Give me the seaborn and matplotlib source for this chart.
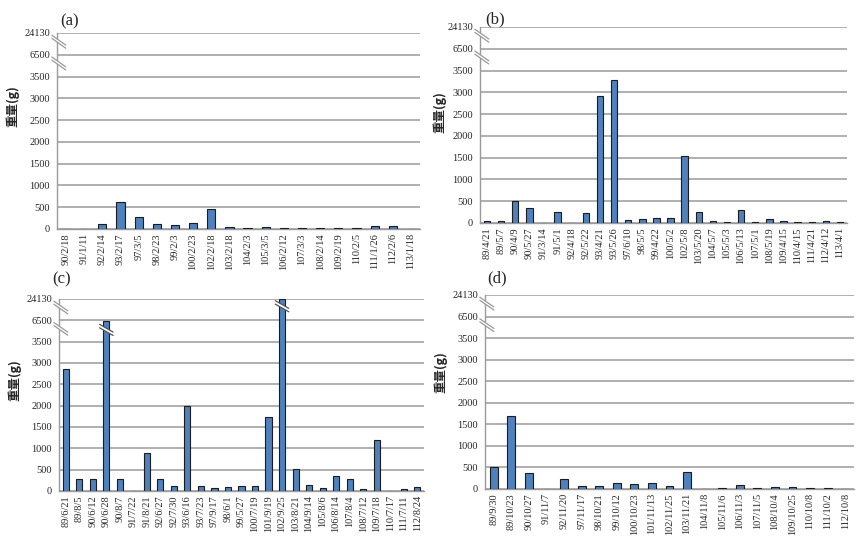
"""Four panels of bar charts with a broken weight axis."""

import matplotlib.pyplot as plt
import numpy as np
import pandas as pd
import seaborn as sns
from matplotlib.patches import Polygon
from matplotlib.transforms import blended_transform_factory

DATES_A = ["90/2/18", "91/1/11", "92/2/14", "93/2/17", "97/3/5", "98/2/23", "99/2/3", "100/2/23",
           "102/2/18", "103/2/18", "104/2/3", "105/3/5", "106/2/12", "107/3/3", "108/2/14",
           "109/2/19", "110/2/5", "111/1/26", "112/2/6", "113/1/18"]
WEIGHT_A = [0, 0, 120, 610, 265, 120, 100, 140, 460, 50, 20, 50, 20, 20, 20, 15, 15, 60, 75, 0]

DATES_B = ["89/4/21", "89/5/7", "90/4/9", "90/5/27", "91/3/14", "91/5/1", "92/4/18", "92/5/22",
           "93/4/21", "93/5/26", "97/6/10", "98/5/5", "99/4/22", "100/5/2", "102/5/8", "103/5/20",
           "104/5/7", "105/5/3", "106/5/13", "107/5/1", "108/5/19", "109/4/15", "110/4/15",
           "111/4/21", "112/4/12", "113/4/1"]
WEIGHT_B = [40, 40, 495, 350, 0, 250, 0, 225, 2920, 3290, 80, 100, 125, 125, 1540, 255,
            40, 15, 300, 15, 85, 45, 25, 15, 40, 15]

DATES_C = ["89/6/21", "89/8/5", "90/6/12", "90/6/28", "90/8/7", "91/7/22", "91/8/21", "92/6/27",
           "92/7/30", "93/6/16", "93/7/23", "97/9/17", "98/6/1", "99/5/27", "100/7/19", "101/9/19",
           "102/9/25", "103/8/21", "104/9/14", "105/8/6", "106/8/14", "107/8/4", "108/7/12",
           "109/7/18", "110/7/17", "111/7/11", "112/8/24"]
WEIGHT_C = [2850, 290, 290, 6450, 290, 0, 890, 290, 120, 2000, 120, 75, 90, 120, 120, 1730,
            24130, 525, 150, 65, 360, 290, 50, 1200, 10, 50, 105]

DATES_D = ["89/9/30", "89/10/23", "90/10/27", "91/11/7", "92/11/20", "97/11/17", "98/10/21",
           "99/10/12", "100/10/23", "101/11/13", "102/11/25", "103/11/21", "104/11/8", "105/11/6",
           "106/11/3", "107/11/5", "108/10/4", "109/10/25", "110/10/8", "111/10/2", "112/10/8"]
WEIGHT_D = [500, 1690, 370, 0, 240, 60, 60, 140, 125, 140, 60, 385, 10, 20, 85, 25, 45, 40,
            20, 20, 10]

Y_TICKS = [0, 500, 1000, 1500, 2000, 2500, 3000, 3500, 6500, 24130]
SCALE_VALUES = [0, 3500, 6500, 24130]
SCALE_STEPS = [0, 7, 8, 9]

BAR_COLOR = "#4F81BD"
GRID_COLOR = "#a9a9a9"
AXIS_COLOR = "#9a9a9a"


def forward(values):
    values = np.asarray(values, dtype=float)
    inside = np.interp(values, SCALE_VALUES, SCALE_STEPS)
    return np.where(values < 0, values / 500, np.where(values > 24130, 9 + (values - 24130) / 17630, inside))


def inverse(steps):
    steps = np.asarray(steps, dtype=float)
    inside = np.interp(steps, SCALE_STEPS, SCALE_VALUES)
    return np.where(steps < 0, steps * 500, np.where(steps > 9, 24130 + (steps - 9) * 17630, inside))


def draw_break(ax, transform, x0, x1, y_center, drop, gap, line_color):
    upper = [(x0, y_center + drop / 2 + gap / 2), (x1, y_center - drop / 2 + gap / 2)]
    lower = [(x0, y_center + drop / 2 - gap / 2), (x1, y_center - drop / 2 - gap / 2)]
    ax.add_patch(Polygon(upper + lower[::-1], closed=True, facecolor="white", edgecolor="none",
                         transform=transform, clip_on=False, zorder=5))
    for line in (upper, lower):
        xs, ys = zip(*line)
        ax.plot(xs, ys, color=line_color, linewidth=0.9, transform=transform, clip_on=False, zorder=6)


def draw_panel(fig, rect, dates, weights, title, title_xy, label_xy, bar_breaks=()):
    ax = fig.add_axes(rect)
    ax.set_yscale("function", functions=(forward, inverse))
    frame = pd.DataFrame({"date": dates, "weight": weights})
    sns.barplot(data=frame, x="date", y="weight", order=dates, color=BAR_COLOR, width=0.45,
                saturation=1, edgecolor="#1c1c1c", linewidth=0.8, ax=ax, zorder=3)

    ax.set_ylim(0, 24130)
    ax.set_xlim(-0.5, len(dates) - 0.5)
    ax.set_yticks(Y_TICKS)
    ax.set_yticklabels([str(tick) for tick in Y_TICKS], fontsize=7.5)
    ax.set_xticks(range(len(dates)))
    ax.set_xticklabels(dates, rotation=90, fontsize=7.5)
    ax.set_xticks(np.arange(-0.5, len(dates), 1.0), minor=True)
    ax.tick_params(axis="x", which="major", length=0, pad=3)
    ax.tick_params(axis="x", which="minor", length=4, color=AXIS_COLOR)
    ax.tick_params(axis="y", length=3, color=AXIS_COLOR, pad=2)
    ax.set_xlabel("")
    ax.set_ylabel("")

    ax.yaxis.grid(True, color=GRID_COLOR, linewidth=1.3)
    ax.xaxis.grid(False)
    ax.set_axisbelow(True)
    for side in ("top", "right"):
        ax.spines[side].set_visible(False)
    for side in ("left", "bottom"):
        ax.spines[side].set_color(AXIS_COLOR)
        ax.spines[side].set_linewidth(1.0)

    for step in (7.6, 8.6):
        draw_break(ax, ax.transAxes, -0.014, 0.024, step / 9, 0.05, 0.016, AXIS_COLOR)

    bar_transform = blended_transform_factory(ax.transData, ax.transAxes)
    for date, step in bar_breaks:
        position = dates.index(date)
        draw_break(ax, bar_transform, position - 0.5, position + 0.5, step / 9, 0.04, 0.018, "#555555")

    width, height = fig.get_size_inches() * fig.dpi
    fig.text(title_xy[0] / width, 1 - title_xy[1] / height, title, fontsize=12,
             ha="center", va="center")
    fig.text(label_xy[0] / width, 1 - label_xy[1] / height, "重量(g)", rotation=90, fontsize=9,
             fontweight="bold", ha="center", va="center",
             family=["Noto Sans CJK TC", "Liberation Serif"])
    return ax


def main() -> None:
    sns.set_style("white")
    plt.rcParams["font.family"] = ["Liberation Serif", "Noto Sans CJK TC"]

    fig = plt.figure(figsize=(8.66, 5.58), dpi=100)
    draw_panel(fig, [57 / 866, 1 - 229 / 558, 363 / 866, 196 / 558], DATES_A, WEIGHT_A,
               "(a)", (70, 21), (13, 106))
    draw_panel(fig, [480 / 866, 1 - 223 / 558, 367 / 866, 196 / 558], DATES_B, WEIGHT_B,
               "(b)", (495, 19), (440, 112))
    draw_panel(fig, [59 / 866, 1 - 491 / 558, 365 / 866, 192 / 558], DATES_C, WEIGHT_C,
               "(c)", (62, 279), (15, 380),
               bar_breaks=[("90/6/28", 7.55), ("102/9/25", 8.66)])
    draw_panel(fig, [485 / 866, 1 - 489 / 558, 369 / 866, 194 / 558], DATES_D, WEIGHT_D,
               "(d)", (497, 278), (441, 372))

    fig.savefig("out.png", dpi=100)


if __name__ == "__main__":
    main()
